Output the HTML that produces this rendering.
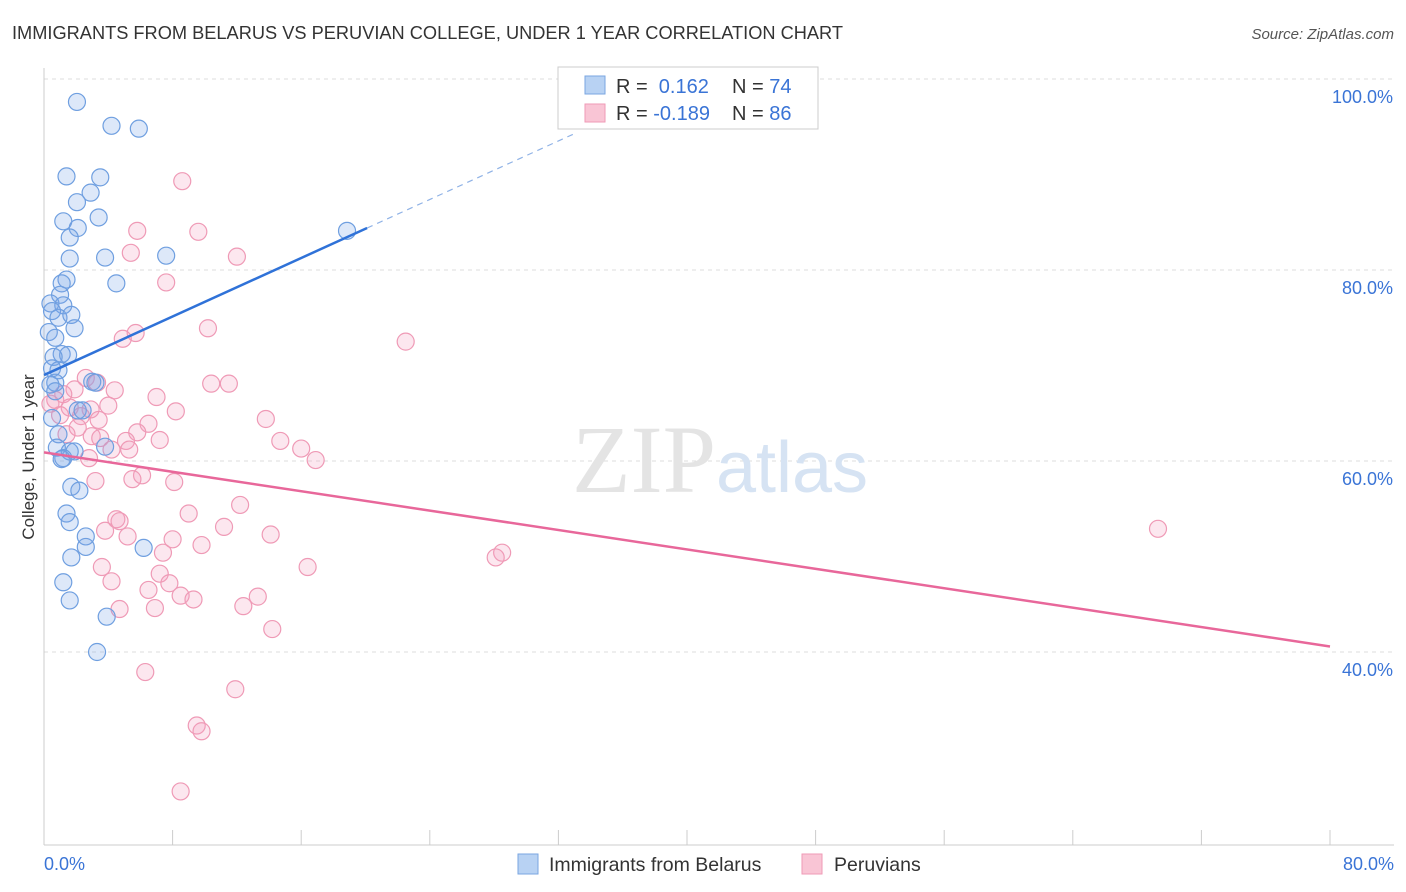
<!DOCTYPE html>
<html><head><meta charset="utf-8">
<style>
body{margin:0;background:#fff;font-family:"Liberation Sans",sans-serif;}
svg{display:block}
</style></head>
<body>
<svg width="1406" height="892" viewBox="0 0 1406 892" xmlns="http://www.w3.org/2000/svg">
<text x="12" y="39" font-size="18" fill="#333" textLength="831" lengthAdjust="spacingAndGlyphs">IMMIGRANTS FROM BELARUS VS PERUVIAN COLLEGE, UNDER 1 YEAR CORRELATION CHART</text>
<text x="1394" y="39" font-size="15" fill="#555" font-style="italic" text-anchor="end">Source: ZipAtlas.com</text>
<g id="grid"></g>
<g id="axes"></g>
<text x="720" y="492" font-size="96" fill="#e4e4e4" text-anchor="middle" font-family="Liberation Serif,serif">ZIP<tspan fill="#d6e3f3" font-family="Liberation Sans,sans-serif" font-size="72">atlas</tspan></text>
<g id="pts"></g>
<g id="lines"></g>
<text transform="translate(34,457) rotate(-90)" font-size="17" fill="#333" text-anchor="middle">College, Under 1 year</text>
<g>
<rect x="558" y="67" width="260" height="62" fill="#fff" stroke="#ccc"/>
<rect x="585" y="76" width="20" height="18" fill="#b8d2f3" stroke="#7aa6e0"/>
<rect x="585" y="104" width="20" height="18" fill="#f9c5d5" stroke="#ef9ab6"/>
<text x="616" y="93" font-size="20" fill="#333">R = <tspan fill="#3a74d6">&#160;0.162</tspan><tspan x="732">N = </tspan><tspan fill="#3a74d6">74</tspan></text>
<text x="616" y="120" font-size="20" fill="#333">R = <tspan fill="#3a74d6">-0.189</tspan><tspan x="732">N = </tspan><tspan fill="#3a74d6">86</tspan></text>
</g>
<g>
<rect x="518" y="854" width="20" height="20" fill="#b8d2f3" stroke="#7aa6e0"/>
<text x="549" y="871" font-size="19.5" fill="#333">Immigrants from Belarus</text>
<rect x="802" y="854" width="20" height="20" fill="#f9c5d5" stroke="#ef9ab6"/>
<text x="834" y="871" font-size="19.5" fill="#333">Peruvians</text>
</g>
</svg>
<script>
const yTicks=[40,60,80,100];
const xTickLabels=["0.0%","80.0%"];
const blueX=[2.05,4.2,5.9,1.4,3.5,2.9,2.05,3.4,1.2,2.1,1.6,18.85,3.8,7.6,1.6,1.4,1.1,4.5,1.0,0.4,1.2,0.5,0.9,1.7,1.9,0.3,0.7,1.1,1.5,0.6,0.5,0.9,0.7,3.0,3.2,0.4,0.7,2.1,2.4,0.5,0.9,3.8,0.8,1.6,1.9,1.2,1.1,1.7,2.2,1.4,1.6,2.6,2.6,6.2,1.7,1.2,1.6,3.9,3.3];
const blueY=[97.6,95.1,94.8,89.8,89.7,88.1,87.1,85.5,85.1,84.4,83.4,84.1,81.3,81.5,81.2,79.0,78.6,78.6,77.4,76.5,76.3,75.7,75.0,75.3,73.9,73.5,72.9,71.2,71.1,70.9,69.7,69.5,68.2,68.3,68.2,68.0,67.3,65.3,65.3,64.5,62.8,61.5,61.4,61.0,61.0,60.3,60.2,57.3,56.9,54.5,53.6,52.1,51.0,50.9,49.9,47.3,45.4,43.7,40.0];
const pinkX=[8.6,5.8,9.6,5.4,12.0,7.6,10.2,5.7,4.9,22.5,10.4,11.5,2.6,3.3,1.9,4.4,7.0,1.2,0.7,0.4,4.0,2.9,1.6,8.2,1.0,2.3,3.4,13.8,6.5,2.1,5.8,1.4,2.97,7.2,5.1,14.7,3.5,4.2,5.3,16.0,2.8,16.9,6.1,5.5,3.2,8.1,12.2,9.0,4.5,4.7,11.2,69.3,3.8,5.2,14.1,8.0,9.8,7.4,28.5,28.1,3.6,16.4,7.2,4.2,7.8,6.5,8.5,9.3,13.3,12.4,4.7,6.9,14.2,6.3,11.9,9.5,9.8,8.5];
const pinkY=[89.3,84.1,84.0,81.8,81.4,78.7,73.9,73.4,72.8,72.5,68.1,68.1,68.7,68.2,67.5,67.4,66.7,67.0,66.4,66.0,65.8,65.4,65.6,65.2,64.8,64.7,64.3,64.4,63.9,63.5,63.0,62.8,62.6,62.2,62.1,62.1,62.4,61.2,61.2,61.3,60.3,60.1,58.5,58.1,57.9,57.8,55.4,54.5,53.9,53.7,53.1,52.9,52.7,52.1,52.3,51.8,51.2,50.4,50.4,49.9,48.9,48.9,48.2,47.4,47.2,46.5,45.9,45.5,45.8,44.8,44.5,44.6,42.4,37.9,36.1,32.3,31.7,25.4];
const blueTrend=[69.0,0.766];
const pinkTrend=[60.9,-0.254];
const NS="http://www.w3.org/2000/svg";
const sx=v=>44+v*(1286/80);
const sy=v=>79+(100-v)*9.55;
function mk(tag,attrs,parent){const e=document.createElementNS(NS,tag);for(const k in attrs)e.setAttribute(k,attrs[k]);parent.appendChild(e);return e;}
const grid=document.getElementById('grid'),axes=document.getElementById('axes'),pts=document.getElementById('pts'),lines=document.getElementById('lines');
yTicks.forEach(t=>{
 const l=mk('line',{x1:44,x2:1394,y1:sy(t),y2:sy(t),stroke:'#ddd','stroke-dasharray':'4,4'},grid);
 
 
 const tx=mk('text',{x:1393,y:sy(t)+24,'font-size':18,fill:'#3a74d6','text-anchor':'end'},axes);
 tx.textContent=t.toFixed(1)+'%';
 
 
});
mk('line',{x1:44,x2:44,y1:68,y2:845,stroke:'#ccc'},axes);
mk('line',{x1:44,x2:1394,y1:845,y2:845,stroke:'#ccc'},axes);
for(let i=0;i<=10;i++){const x=sx(i*8);mk('line',{x1:x,x2:x,y1:830,y2:845,stroke:'#ccc'},axes);}
[[0,'start'],[80,'end']].forEach((p,i)=>{
 const tx=mk('text',{x:i?1394:44,y:870,'font-size':18,fill:'#3a74d6','text-anchor':p[1]},axes);
 tx.textContent=xTickLabels[i];
 
 
});
pinkX.forEach((x,i)=>{
 const c=mk('circle',{cx:sx(x),cy:sy(pinkY[i]),r:8.5,fill:'rgba(244,160,190,0.25)',stroke:'#ef9ab6','stroke-width':1.2},pts);
 
 
});
blueX.forEach((x,i)=>{
 const c=mk('circle',{cx:sx(x),cy:sy(blueY[i]),r:8.5,fill:'rgba(120,165,230,0.25)',stroke:'#6f9fe0','stroke-width':1.2},pts);
 
 
});
const bf=x=>blueTrend[0]+blueTrend[1]*x, pf=x=>pinkTrend[0]+pinkTrend[1]*x;
const bl=mk('line',{x1:sx(0),y1:sy(bf(0)),x2:sx(20.1),y2:sy(bf(20.1)),stroke:'#2f72d8','stroke-width':2.5},lines);


const bd=mk('line',{x1:sx(20.1),y1:sy(bf(20.1)),x2:sx(33),y2:sy(bf(33)),stroke:'#8fb2e6','stroke-width':1.2,'stroke-dasharray':'6,5'},lines);


const pl=mk('line',{x1:sx(0),y1:sy(pf(0)),x2:sx(80),y2:sy(pf(80)),stroke:'#e8679a','stroke-width':2.5},lines);


</script>
</body></html>
